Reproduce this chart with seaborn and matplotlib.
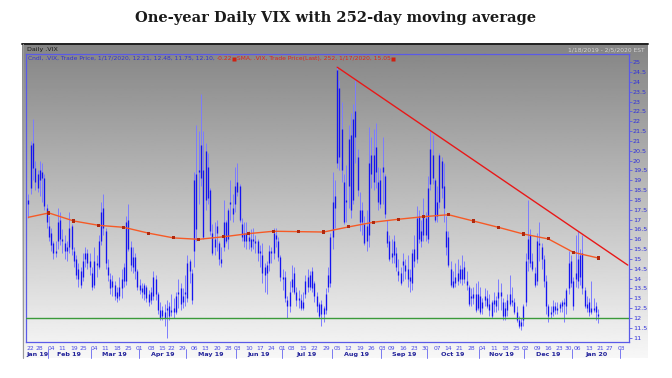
import numpy as np
import pandas as pd
import matplotlib
matplotlib.use("Agg")
import matplotlib.pyplot as plt
import matplotlib.transforms as mtransforms
from matplotlib.lines import Line2D
import seaborn as sns

# ---------------- data ----------------
# trading calendar of the chart (exchange holidays removed)
holidays = ["2019-01-21", "2019-02-18", "2019-04-19", "2019-05-27", "2019-07-04",
            "2019-09-02", "2019-11-28", "2019-12-25", "2020-01-01", "2020-01-20"]
first_day, last_axis_day = "2019-01-18", "2020-02-07"

# daily VIX candles, 1/18/2019 .. 1/17/2020 (one line per month)
vix_open = [
    18.0, 18.6, 20.9, 19.6, 19.3, 19.0, 19.4, 19.1, 17.6,
    16.7, 16.3, 15.8, 15.3, 15.9, 17.0, 16.0, 15.8, 15.4, 15.6, 16.7, 15.4, 15.0, 14.0, 14.4, 14.1, 15.0, 15.3, 14.9,
    14.3, 13.7, 14.8, 14.6, 15.9, 17.6, 16.4, 14.6, 14.0, 13.6, 13.7, 13.3, 13.1, 13.5, 14.6, 13.9, 17.0, 15.6, 14.6, 15.1, 14.4,
    13.7, 13.5, 13.2, 13.6, 13.2, 12.9, 13.1, 14.0, 13.2, 12.4, 12.1, 12.3, 12.4, 12.6, 12.3, 12.5, 12.3, 13.2, 13.5, 12.8, 13.3,
    13.0, 14.9, 14.3, 19.0, 16.5, 19.5, 20.8, 19.5, 18.0, 19.7, 18.5, 16.3, 15.6, 16.7, 15.8, 15.0, 15.6, 16.9, 16.0, 17.8, 17.6, 17.8,
    18.4, 18.7, 16.8, 16.3, 15.9, 16.1, 15.6, 16.0, 15.9, 15.9, 15.4, 15.2, 14.6, 14.3, 14.8, 15.4, 15.3, 16.2, 15.9, 15.1,
    14.0, 14.1, 12.9, 12.6, 13.6, 14.3, 13.3, 13.0, 12.9, 12.5, 13.2, 13.6, 14.2, 13.5, 13.8, 13.1, 12.7, 12.2, 12.5, 12.4, 13.6, 13.8,
    16.1, 18.2, 19.9, 23.7, 21.6, 18.9, 17.9, 18.7, 21.3, 18.0, 22.5, 20.2, 17.5, 16.9, 16.8, 15.9, 16.2, 20.3, 18.9, 20.7, 18.9, 17.8,
    19.4, 19.2, 16.4, 15.9, 15.1, 15.9, 15.3, 14.4, 14.3, 14.9, 14.7, 14.5, 14.1, 13.8, 15.5, 15.0, 17.2, 15.9, 16.2, 17.1,
    16.0, 18.8, 20.3, 19.0, 17.2, 17.9, 20.0, 18.7, 16.4, 16.1, 14.5, 13.6, 14.1, 13.9, 14.5, 14.0, 14.6, 13.9, 13.6, 13.0, 13.0, 13.2, 12.5,
    13.1, 12.5, 12.9, 13.0, 12.4, 12.8, 12.9, 12.6, 13.0, 13.3, 12.8, 12.1, 12.4, 12.7, 12.9, 12.8, 12.3, 11.9, 11.6, 11.9,
    12.8, 15.0, 16.2, 14.9, 14.3, 13.9, 15.8, 15.6, 15.0, 13.9, 12.6, 12.2, 12.3, 12.6, 12.4, 12.5, 12.6, 12.8, 12.6, 13.5, 14.9,
    13.9, 14.3, 15.0, 14.1, 15.3, 13.4, 12.7, 12.8, 12.3, 12.5, 12.6, 12.21,
]
vix_high = [
    18.3, 21.0, 22.1, 20.0, 19.5, 20.0, 19.9, 19.3, 17.8,
    17.2, 16.6, 15.9, 15.9, 17.6, 17.4, 16.5, 16.2, 15.9, 17.4, 16.8, 15.6, 15.2, 14.8, 14.6, 15.3, 15.6, 15.5, 15.3,
    14.6, 15.6, 15.2, 16.2, 17.9, 18.3, 16.6, 15.0, 14.3, 14.2, 13.9, 13.6, 14.1, 14.5, 14.8, 17.2, 17.8, 15.9, 15.6, 15.3, 14.5,
    14.0, 13.8, 13.8, 13.7, 13.4, 13.6, 14.4, 14.2, 13.3, 12.8, 12.6, 12.7, 12.9, 12.8, 13.2, 13.0, 13.3, 14.0, 13.8, 13.5, 14.2,
    15.2, 15.0, 14.5, 19.4, 21.8, 21.5, 23.4, 21.5, 20.9, 20.4, 18.6, 16.8, 16.9, 17.0, 15.9, 15.6, 18.0, 17.0, 17.6, 19.0, 18.3, 19.7,
    19.9, 18.8, 17.1, 16.9, 16.9, 16.4, 16.5, 16.6, 16.2, 16.0, 15.7, 15.8, 14.8, 14.9, 15.7, 15.6, 16.6, 16.6, 16.1, 15.2,
    14.5, 14.4, 13.1, 13.9, 14.7, 14.6, 13.6, 13.4, 13.2, 13.3, 14.2, 14.5, 14.4, 14.6, 13.9, 13.3, 12.8, 12.9, 12.6, 13.5, 14.6, 16.3,
    19.4, 19.0, 24.8, 24.1, 23.0, 19.3, 19.8, 21.8, 22.4, 22.9, 24.1, 20.6, 18.4, 17.9, 17.2, 17.5, 21.7, 21.2, 21.6, 21.9, 19.7, 19.6,
    21.2, 19.3, 17.0, 16.2, 16.0, 16.2, 15.6, 15.0, 14.6, 15.3, 15.0, 15.2, 14.5, 15.5, 16.2, 17.7, 17.5, 17.0, 18.1, 17.4,
    19.2, 21.5, 21.3, 19.1, 18.7, 20.4, 20.2, 19.9, 17.2, 16.4, 14.9, 14.4, 14.8, 15.0, 14.7, 15.2, 14.9, 14.4, 13.7, 13.5, 13.6, 13.8, 13.9,
    13.6, 13.0, 13.5, 13.4, 13.2, 12.9, 13.3, 13.1, 14.0, 13.8, 13.0, 12.8, 13.2, 14.2, 13.6, 13.0, 12.6, 12.1, 12.0, 12.7,
    15.3, 18.0, 16.5, 15.3, 14.6, 16.3, 16.9, 15.8, 15.2, 14.2, 12.7, 12.6, 12.9, 12.8, 12.8, 12.8, 12.9, 13.0, 13.5, 15.4, 15.2,
    14.1, 16.2, 16.4, 15.5, 16.2, 13.6, 13.1, 13.0, 13.9, 13.0, 12.8, 12.48,
]
vix_low = [
    17.1, 18.3, 19.0, 18.5, 18.4, 18.2, 17.9, 17.5, 16.6,
    15.9, 15.4, 15.0, 15.1, 15.5, 15.7, 15.3, 15.0, 14.9, 15.3, 15.2, 14.6, 14.0, 13.6, 13.5, 13.9, 14.6, 14.5, 14.2,
    13.4, 13.5, 14.1, 14.5, 15.7, 16.2, 14.5, 13.9, 13.2, 13.1, 12.9, 12.8, 12.9, 13.0, 13.6, 13.7, 15.4, 14.4, 14.3, 14.0, 13.4,
    13.2, 13.0, 12.9, 12.8, 12.6, 12.7, 12.9, 12.9, 12.2, 11.9, 11.9, 11.6, 11.0, 11.9, 12.1, 12.0, 12.2, 12.5, 12.4, 12.5, 12.6,
    12.8, 13.8, 12.7, 14.6, 15.9, 17.8, 18.7, 16.0, 17.5, 17.8, 16.2, 15.2, 15.2, 15.4, 14.7, 14.6, 15.4, 15.8, 15.5, 17.0, 16.9, 17.4,
    18.2, 16.9, 15.9, 15.6, 15.5, 15.5, 15.4, 15.5, 15.3, 14.9, 14.6, 13.8, 13.3, 13.2, 14.4, 14.8, 15.0, 15.6, 14.9, 13.9,
    13.4, 12.8, 12.0, 12.3, 13.3, 13.2, 12.6, 12.5, 12.4, 12.4, 13.0, 13.3, 13.4, 13.3, 12.8, 12.3, 12.0, 11.6, 11.8, 12.2, 13.3, 13.6,
    15.5, 16.6, 19.6, 19.5, 18.9, 16.8, 16.9, 17.6, 17.1, 17.8, 19.9, 18.2, 16.4, 16.2, 15.7, 15.4, 15.6, 18.6, 18.5, 18.6, 17.5, 17.6,
    17.8, 17.1, 15.6, 14.9, 14.8, 14.8, 14.4, 13.9, 13.7, 13.9, 14.0, 13.6, 13.3, 13.4, 14.6, 14.8, 15.8, 15.6, 15.9, 15.9,
    15.8, 18.5, 18.8, 16.9, 16.9, 17.6, 18.1, 16.9, 15.2, 14.6, 13.6, 13.5, 13.6, 13.7, 13.8, 13.7, 13.8, 13.4, 12.6, 12.6, 12.7, 12.3, 12.4,
    12.2, 12.2, 12.6, 12.5, 12.1, 12.0, 12.3, 12.3, 12.4, 12.4, 11.9, 11.9, 12.1, 12.6, 12.6, 12.2, 11.8, 11.5, 11.4, 11.6,
    12.6, 14.4, 14.6, 14.4, 13.6, 13.7, 14.9, 14.5, 13.6, 12.2, 11.8, 12.0, 12.1, 12.2, 12.2, 12.3, 12.3, 11.8, 12.2, 13.2, 13.6,
    12.4, 13.6, 13.5, 13.7, 13.2, 12.5, 12.3, 12.1, 12.2, 12.3, 11.9, 11.75,
]
vix_close = [
    17.8, 20.8, 19.6, 18.9, 18.6, 19.5, 19.1, 17.7, 16.9,
    16.1, 15.7, 15.3, 15.4, 16.9, 16.0, 15.9, 15.4, 15.6, 16.6, 15.5, 14.9, 14.2, 14.5, 13.7, 14.9, 15.3, 14.8, 14.6,
    13.6, 14.9, 14.7, 15.9, 17.4, 16.6, 14.8, 14.2, 13.5, 13.9, 13.1, 13.0, 13.6, 14.0, 13.9, 16.9, 15.5, 14.7, 15.1, 14.4, 13.6,
    13.4, 13.3, 13.7, 13.0, 12.8, 13.3, 14.1, 13.2, 12.4, 12.0, 12.4, 12.0, 12.5, 12.1, 12.4, 12.3, 13.1, 13.3, 12.7, 13.1, 13.2,
    14.8, 14.4, 12.9, 15.4, 19.3, 19.4, 19.1, 16.1, 20.5, 18.1, 16.4, 15.3, 16.0, 16.3, 15.0, 14.8, 16.9, 15.9, 17.5, 17.9, 17.3, 18.7,
    18.9, 17.0, 16.1, 15.9, 16.3, 15.9, 16.0, 15.9, 15.8, 15.3, 15.3, 14.3, 14.2, 14.7, 15.4, 15.3, 16.3, 16.0, 15.1, 14.1,
    14.1, 13.0, 12.6, 13.3, 14.0, 13.3, 12.9, 12.9, 12.5, 12.8, 13.9, 14.1, 13.6, 14.4, 13.1, 12.6, 12.1, 12.7, 12.2, 13.2, 14.2, 16.1,
    17.9, 17.6, 24.6, 20.2, 19.5, 16.9, 18.0, 21.1, 17.5, 22.1, 21.2, 18.5, 16.9, 17.5, 15.8, 16.7, 19.9, 19.3, 20.3, 19.4, 17.9, 19.0,
    19.7, 17.3, 15.8, 15.0, 15.3, 15.2, 14.6, 14.2, 13.8, 14.7, 14.4, 14.0, 13.9, 15.3, 14.9, 17.1, 16.0, 16.4, 17.2, 16.2,
    18.6, 20.6, 19.1, 17.0, 17.9, 20.3, 18.6, 17.6, 15.6, 14.7, 13.7, 13.9, 13.8, 14.3, 14.0, 14.5, 14.0, 13.7, 12.7, 13.1, 13.2, 12.4, 13.2,
    12.3, 12.8, 13.1, 12.6, 12.7, 12.1, 12.7, 12.9, 13.3, 13.1, 12.1, 12.5, 12.9, 13.2, 12.8, 12.3, 11.9, 11.6, 11.8, 12.6,
    14.9, 16.0, 14.8, 14.5, 13.7, 15.9, 15.7, 15.0, 13.9, 12.6, 12.1, 12.3, 12.6, 12.4, 12.5, 12.7, 12.8, 12.7, 13.4, 14.8, 13.8,
    12.6, 14.0, 13.9, 15.2, 13.5, 12.6, 12.5, 12.3, 12.5, 12.4, 12.3, 12.10,
]

# 252-day simple moving average, read at its plotted marker points
ma_dates = ["2019-01-18", "2019-02-01", "2019-02-19", "2019-03-06", "2019-03-21", "2019-04-05",
            "2019-04-23", "2019-05-08", "2019-05-23", "2019-06-10", "2019-06-25", "2019-07-11",
            "2019-07-26", "2019-08-12", "2019-08-27", "2019-09-12", "2019-09-27", "2019-10-14",
            "2019-10-29", "2019-11-13", "2019-11-29", "2019-12-16", "2020-01-02", "2020-01-17"]
ma_values = [17.12, 17.34, 16.93, 16.71, 16.61, 16.31,
             16.07, 16.00, 16.13, 16.29, 16.41, 16.39,
             16.37, 16.63, 16.87, 17.02, 17.15, 17.25,
             16.93, 16.61, 16.27, 16.02, 15.34, 15.05]

# hand-drawn resistance line and support level
trend_dates = ["2019-08-05", "2020-02-06"]
trend_values = [24.75, 14.69]
support_level = 12.0

y_ticks = np.arange(11, 25.01, 0.5)

# ---------------- layout helpers ----------------
W, H = 672, 378
def fx(px):
    return px / W
def fy(py):
    return 1 - py / H

days = pd.bdate_range(first_day, last_axis_day)
days = days[~days.isin(pd.to_datetime(holidays))]
pos = {d: i for i, d in enumerate(days)}
def xi(d):
    return pos[pd.Timestamp(d)]

n = len(vix_close)
df = pd.DataFrame({"x": np.arange(n), "open": vix_open, "high": vix_high,
                   "low": vix_low, "close": vix_close})
ma = pd.DataFrame({"x": [xi(d) for d in ma_dates], "ma": ma_values})
trend = pd.DataFrame({"x": [xi(d) for d in trend_dates], "y": trend_values})

sns.set_style("white")
plt.rcParams["font.family"] = ["DejaVu Sans"]

fig = plt.figure(figsize=(6.72, 3.78), dpi=100)

# gray gradient panel behind the chart
bg = fig.add_axes([fx(22), fy(358), fx(648) - fx(22), fy(44) - fy(358)], zorder=0)
grad = np.linspace(0.52, 0.97, 256).reshape(-1, 1)
bg.imshow(grad, cmap="gray", vmin=0, vmax=1, aspect="auto", extent=[0, 1, 0, 1])
bg.set_axis_off()
fig.add_artist(Line2D([fx(22), fx(648)], [fy(44), fy(44)], color="#202020", lw=1.4))
fig.add_artist(Line2D([fx(22.5), fx(22.5)], [fy(44), fy(358)], color="#9a9a9a", lw=0.8))

blue = "#5a5ae8"
ax = fig.add_axes([fx(26), fy(342), fx(628.7) - fx(26), fy(54) - fy(342)], zorder=1)
ax.patch.set_alpha(0)

# candles: light wick, solid body
ax.vlines(df["x"], df["low"], df["high"], color="#7c7cff", lw=0.7, zorder=2)
ax.vlines(df["x"], df[["open", "close"]].min(axis=1), df[["open", "close"]].max(axis=1),
          color="#1414f0", lw=0.95, zorder=3)

ax.axhline(support_level, color="#3a9a3a", lw=1.0, zorder=4)
sns.lineplot(data=ma, x="x", y="ma", ax=ax, color="#f65a26", lw=1.0, zorder=5)
sns.scatterplot(data=ma.iloc[1:], x="x", y="ma", ax=ax, marker="s", s=5,
                color="#b0280e", edgecolor="none", zorder=6)
sns.lineplot(data=trend, x="x", y="y", ax=ax, color="#e81818", lw=1.0, zorder=6)

ax.set_xlim(-1.07, 264.4)
ax.set_ylim(10.78, 25.42)
ax.set_xlabel("")
ax.set_ylabel("")
for s in ax.spines.values():
    s.set_color(blue)
    s.set_linewidth(0.9)

ax.yaxis.tick_right()
ax.set_yticks(y_ticks)
ax.set_yticklabels([f"{v:g}" for v in y_ticks])
ax.tick_params(axis="y", direction="out", length=2, width=0.6, color=blue,
               labelsize=4.6, labelcolor="#3030d8", pad=1)

# weekly ticks (first session of each week) and month bands
week_idx = [i for i in range(1, len(days)) if days[i].isocalendar()[1] != days[i - 1].isocalendar()[1]]
ax.set_xticks(week_idx)
ax.set_xticklabels([days[i].strftime("%d") for i in week_idx])
ax.tick_params(axis="x", direction="out", length=2, width=0.6, color=blue,
               labelsize=4.3, labelcolor="#4a4ae6", pad=1)

trans = mtransforms.blended_transform_factory(ax.transData, ax.transAxes)
month_start = [0] + [i for i in range(1, len(days)) if days[i].month != days[i - 1].month]
for k, m0 in enumerate(month_start):
    if m0 > 0:
        ax.add_artist(Line2D([m0 - 0.5, m0 - 0.5], [-7 / 288, -16 / 288], transform=trans,
                             color="#7a7af0", lw=0.7, clip_on=False))
    m1 = month_start[k + 1] if k + 1 < len(month_start) else len(days)
    if m0 >= n:
        continue
    ax.text((m0 + m1 - 1) / 2, -12.5 / 288, days[m0].strftime("%b %y"), transform=trans,
            ha="center", va="center", fontsize=4.6, fontweight="bold", color="#23239a")

# header strip
fig.text(fx(27), fy(49.5), "Daily .VIX", fontsize=4.6, color="#1c1c1c", va="center")
fig.text(fx(645), fy(49.5), "1/18/2019 - 2/5/2020 EST", fontsize=4.3, color="#d6d6d6",
         va="center", ha="right")

# legend row
fig.canvas.draw()
rend = fig.canvas.get_renderer()
x_cur = fx(28)
ly = fy(58.5)
parts = [("Cndl, .VIX, Trade Price, 1/17/2020, 12.21, 12.48, 11.75, 12.10, ", "#3030d0", None),
         ("-0.22", "#e0201a", "box"),
         (" SMA, .VIX, Trade Price(Last), 252, 1/17/2020, 15.05", "#e0201a", "box")]
for txt, col, box in parts:
    t = fig.text(x_cur, ly, txt, fontsize=4.3, color=col, va="center")
    bb = t.get_window_extent(rend)
    x_cur = bb.x1 / W
    if box:
        fig.add_artist(Line2D([x_cur + 1.5 / W], [ly], marker="s", ms=2.2, color="#d02010",
                              mec="none"))
        x_cur += 3 / W

fig.text(0.5, fy(18), "One-year Daily VIX with 252-day moving average", ha="center",
         va="center", fontsize=10.5, fontweight="bold", family="DejaVu Serif", color="#1a1a1a")

fig.savefig("out.png", dpi=100)
